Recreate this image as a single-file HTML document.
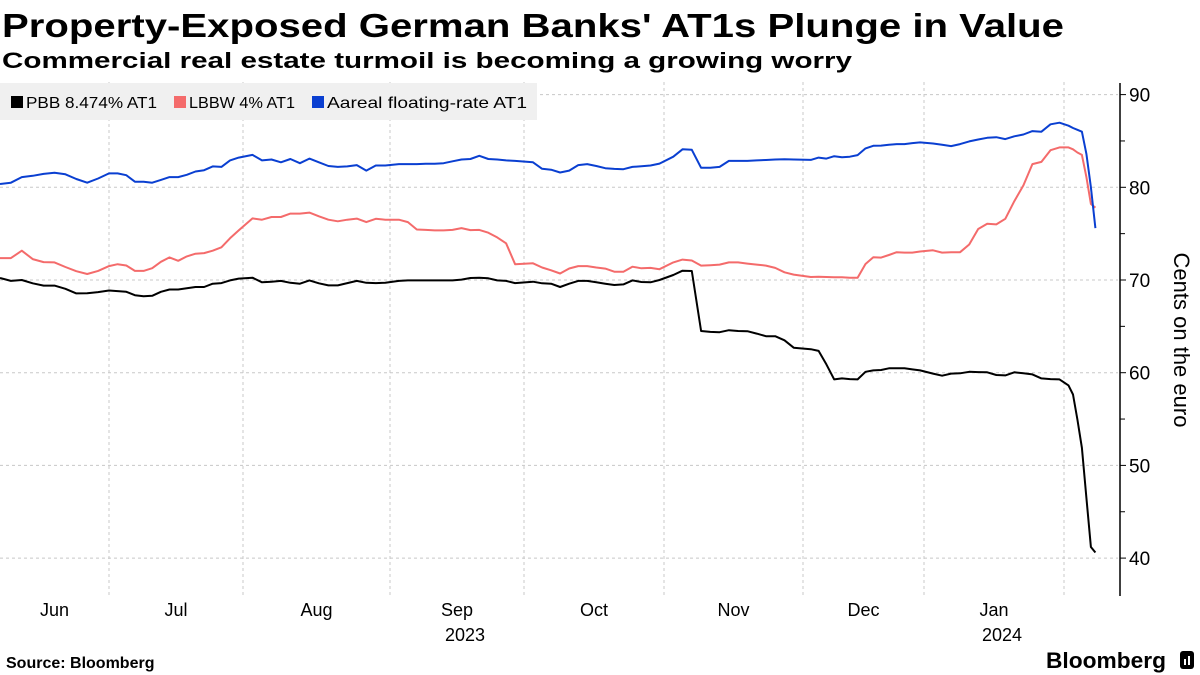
<!DOCTYPE html>
<html><head><meta charset="utf-8"><style>
html,body{margin:0;padding:0;background:#fff;}
svg{display:block;font-family:"Liberation Sans",sans-serif;}
</style></head><body>
<svg id="chart" width="1200" height="675" viewBox="0 0 1200 675" xmlns="http://www.w3.org/2000/svg">
<text x="2" y="37" font-size="33" font-weight="bold" textLength="1062" lengthAdjust="spacingAndGlyphs">Property-Exposed German Banks' AT1s Plunge in Value</text>
<text x="2" y="68" font-size="22" font-weight="bold" textLength="850" lengthAdjust="spacingAndGlyphs">Commercial real estate turmoil is becoming a growing worry</text>
<g id="grid"></g>
<rect x="0" y="83" width="537" height="37" fill="#f0f0f0"/>
<g>
<rect x="11" y="96" width="12" height="12" fill="#000"/>
<text x="26" y="108" font-size="16" textLength="131" lengthAdjust="spacingAndGlyphs">PBB 8.474% AT1</text>
<rect x="174" y="96" width="12" height="12" fill="#f46b6b"/>
<text x="189" y="108" font-size="16" textLength="106" lengthAdjust="spacingAndGlyphs">LBBW 4% AT1</text>
<rect x="312" y="96" width="12" height="12" fill="#0a3fd1"/>
<text x="327" y="108" font-size="16" textLength="200" lengthAdjust="spacingAndGlyphs">Aareal floating-rate AT1</text>
</g>
<g id="series"></g>
<g id="axes"></g>
<text transform="translate(1174,340) rotate(90)" text-anchor="middle" font-size="22">Cents on the euro</text>
<text x="6" y="668" font-size="16" font-weight="bold">Source: Bloomberg</text>
<text x="1166" y="668" font-size="22" font-weight="bold" text-anchor="end" textLength="120" lengthAdjust="spacingAndGlyphs">Bloomberg</text>
<g><rect x="1180" y="651" width="14" height="18" rx="3" fill="#000"/><rect x="1184" y="659" width="2" height="6" fill="#fff"/><rect x="1188" y="656" width="2" height="9" fill="#fff"/></g>
</svg>
<script>
const days=[0,3,6,9,12,15,18,21,24,27,30,
32,34,36,38,40,42,44,46,48,50,52,54,56,58,60,
63,65,67,69,71,73,75,77,79,81,83,85,87,89,91,
94,96,98,100,102,104,106,108,110,112,114,116,118,120,
124,126,128,130,132,134,136,138,140,142,144,146,148,150,152,
155,157,159,161,163,165,167,169,171,173,175,177,179,181,
185,187,189,191,193,195,197,199,201,203,205,207,209,211,213,
216,218,220,222,224,226,228,230,232,234,236,238,240,242,244,
246,247,248,249,250,251,252];
const aareal=[80.36,80.5,81.1,81.24,81.45,81.56,81.4,80.9,80.5,80.95,81.5,
81.5,81.3,80.6,80.6,80.5,80.8,81.1,81.1,81.35,81.7,81.85,82.25,82.2,82.9,83.2,
83.5,82.9,83.0,82.7,83.05,82.6,83.1,82.7,82.3,82.2,82.25,82.4,81.8,82.35,82.35,
82.5,82.5,82.5,82.55,82.55,82.6,82.8,83.0,83.05,83.4,83.05,83.0,82.9,82.85,
82.7,82.0,81.9,81.6,81.8,82.4,82.5,82.3,82.06,81.99,81.95,82.2,82.27,82.35,82.56,
83.3,84.1,84.05,82.1,82.1,82.2,82.85,82.85,82.85,82.9,82.95,83.0,83.03,83.0,
82.96,83.2,83.1,83.35,83.25,83.3,83.47,84.2,84.48,84.5,84.6,84.66,84.66,84.77,84.84,
84.73,84.58,84.44,84.66,84.95,85.16,85.34,85.4,85.2,85.5,85.7,86.06,86.0,86.8,86.97,
86.65,86.4,86.2,86.0,83.6,80.0,75.6];
const lbbw=[72.36,72.36,73.16,72.25,71.93,71.9,71.4,70.95,70.65,70.98,71.5,
71.7,71.56,70.98,70.98,71.27,71.96,72.44,72.07,72.55,72.84,72.9,73.16,73.53,74.5,75.35,
76.65,76.5,76.8,76.8,77.16,77.16,77.27,76.87,76.5,76.33,76.5,76.62,76.25,76.6,76.5,
76.5,76.25,75.45,75.4,75.35,75.35,75.4,75.6,75.38,75.4,75.1,74.6,73.96,71.7,
71.8,71.35,71.05,70.7,71.24,71.5,71.5,71.35,71.23,70.9,70.9,71.44,71.26,71.3,71.16,
71.9,72.2,72.1,71.55,71.6,71.66,71.9,71.9,71.77,71.66,71.55,71.3,70.83,70.58,
70.32,70.36,70.32,70.3,70.3,70.25,70.25,71.73,72.45,72.42,72.7,73.0,72.96,72.96,73.07,
73.2,72.96,73.0,73.0,73.83,75.5,76.06,76.0,76.6,78.5,80.2,82.5,82.74,84.0,84.3,
84.3,84.1,83.75,83.5,81.1,78.2,77.8];
const pbb=[70.22,69.9,70.0,69.64,69.4,69.4,69.05,68.55,68.58,68.7,68.87,
68.8,68.73,68.36,68.25,68.3,68.73,68.98,68.98,69.1,69.24,69.24,69.6,69.67,69.96,70.15,
70.25,69.75,69.82,69.9,69.7,69.6,69.96,69.64,69.42,69.42,69.67,69.9,69.7,69.67,69.7,
69.9,69.96,69.96,69.96,69.96,69.96,69.96,70.04,70.22,70.25,70.18,69.96,69.9,69.67,
69.82,69.64,69.6,69.24,69.6,69.9,69.9,69.75,69.6,69.46,69.53,69.96,69.78,69.75,70.0,
70.54,71.0,70.97,64.5,64.4,64.37,64.58,64.5,64.48,64.22,63.94,63.94,63.5,62.7,
62.53,62.35,60.9,59.28,59.39,59.31,59.28,60.1,60.25,60.29,60.47,60.47,60.47,60.36,60.25,
59.9,59.68,59.9,59.93,60.1,60.07,60.04,59.75,59.71,60.04,59.93,59.82,59.39,59.31,59.28,
58.63,57.65,54.95,51.9,46.5,41.2,40.6];
const monthLabels=["Jun","Jul","Aug","Sep","Oct","Nov","Dec","Jan"];
const monthStartDays=[0,30,61,92,122,153,183,214,245,274];
const yearLabels=["2023","2024"];
const yearLabelMonth=[3,7];
const yTicks=[40,50,60,70,80,90];
const yMinorTicks=[45,55,65,75,85];

const NS="http://www.w3.org/2000/svg";
const anchorPx=[0,109,243,390,524,664,803,924,1064,1194];
function xScale(d){
  for(let i=0;i<monthStartDays.length-1;i++){
    const a=monthStartDays[i],b=monthStartDays[i+1];
    if(d<=b||i===monthStartDays.length-2){
      return anchorPx[i]+(d-a)/(b-a)*(anchorPx[i+1]-anchorPx[i]);
    }
  }
}
function yScale(v){return 94.6+(90-v)*9.27;}
function mk(tag,attrs,parent){const e=document.createElementNS(NS,tag);for(const k in attrs)e.setAttribute(k,attrs[k]);parent.appendChild(e);return e;}

const grid=document.getElementById('grid');
yTicks.forEach(v=>{
  const l=mk('line',{x1:0,x2:1118,y1:yScale(v),y2:yScale(v),stroke:'#c8c8c8','stroke-width':1,'stroke-dasharray':'3,3'},grid);
  
  
});
for(let i=1;i<monthLabels.length+1;i++){
  const x=xScale(monthStartDays[i]);
  const l=mk('line',{x1:x,x2:x,y1:82,y2:595,stroke:'#c8c8c8','stroke-width':1,'stroke-dasharray':'3,3'},grid);
  
  
}

const series=document.getElementById('series');
[[lbbw,'#f46b6b','line-lbbw'],[pbb,'#000000','line-pbb'],[aareal,'#0a3fd1','line-aareal']].forEach(s=>{
  const pts=days.map((d,i)=>xScale(d).toFixed(1)+','+yScale(s[0][i]).toFixed(1)).join(' ');
  const p=mk('polyline',{points:pts,fill:'none',stroke:s[1],'stroke-width':2,'stroke-linejoin':'round'},series);
  
  
});

const axes=document.getElementById('axes');
const ax=mk('line',{x1:1120,x2:1120,y1:83,y2:596,stroke:'#000','stroke-width':1.5},axes);


yTicks.forEach(v=>{
  const y=yScale(v);
  const t=mk('line',{x1:1120,x2:1126,y1:y,y2:y,stroke:'#000','stroke-width':1},axes);
  
  
  const tx=mk('text',{x:1129,y:y+7,'font-size':19},axes);
  tx.textContent=String(v);
  
  
});
yMinorTicks.forEach(v=>{
  const y=yScale(v);
  const t=mk('line',{x1:1120,x2:1125,y1:y,y2:y,stroke:'#000','stroke-width':1},axes);
  
  
});
monthLabels.forEach((m,i)=>{
  const x=(xScale(monthStartDays[i])+xScale(monthStartDays[i+1]))/2;
  const t=mk('text',{x:x,y:616,'font-size':18,'text-anchor':'middle'},axes);
  t.textContent=m;
  
  
});
yearLabels.forEach((yl,i)=>{
  const m=yearLabelMonth[i];
  const x=(xScale(monthStartDays[m])+xScale(monthStartDays[m+1]))/2;
  const t=mk('text',{x:x+8,y:641,'font-size':18,'text-anchor':'middle'},axes);
  t.textContent=yl;
  
  
});
</script>
</body></html>
